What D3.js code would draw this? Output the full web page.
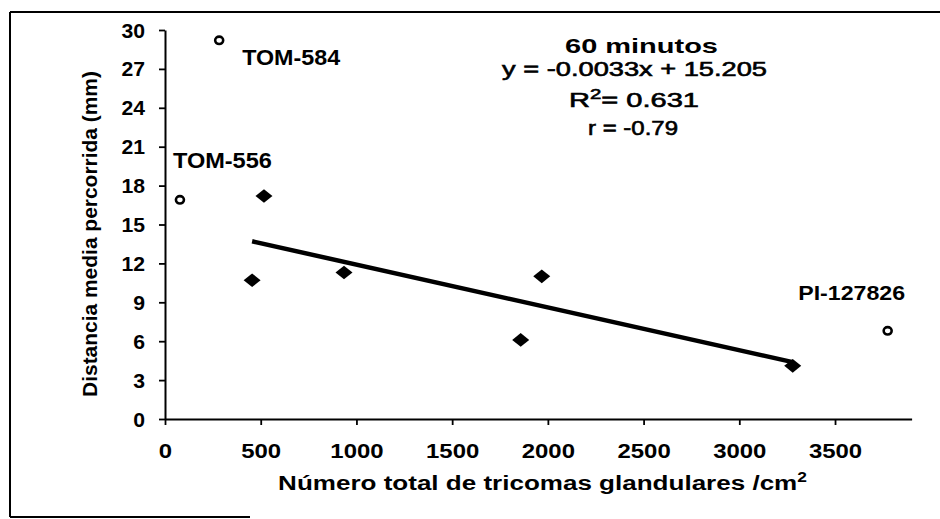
<!DOCTYPE html>
<html><head><meta charset="utf-8">
<script src="https://cdn.jsdelivr.net/npm/d3@7"></script>
<style>html,body{margin:0;padding:0;background:#fff;} svg{display:block;font-family:"Liberation Sans",Arial,Helvetica,sans-serif;}</style>
</head><body><svg id="c" width="940" height="519"></svg>
<script>
// ---- data ----
const seriesX = [455, 517, 935, 1858, 1968, 3279];
const seriesY = [10.7, 17.2, 11.3, 6.1, 11.0, 4.1];
const outlierX = [283, 78, 3775];
const outlierY = [29.2, 16.9, 6.8];
const outlierLabels = ["TOM-584", "TOM-556", "PI-127826"];
const trendSlope = -0.0033;
const trendIntercept = 15.205;
const xTicks = [0, 500, 1000, 1500, 2000, 2500, 3000, 3500];
const yTicks = [0, 3, 6, 9, 12, 15, 18, 21, 24, 27, 30];
const xDomain = [0, 3900];
const yDomain = [0, 30];
const titleText = "60 minutos";
const eqText = "y = -0.0033x + 15.205";
const r2Value = "0.631";
const rText = "r = -0.79";
const xTitle = "Número total de tricomas glandulares /cm";
const yTitle = "Distancia media percorrida (mm)";

// ---- layout ----
const svg = d3.select("#c");
const x = d3.scaleLinear().domain(xDomain).range([165, 911.6]);
const y = d3.scaleLinear().domain(yDomain).range([419, 30]);
const labelOffsets = [[23, 25], [-7, -32], [-89.5, -31]];
const labelWidths = [98, 99, 107];

svg.append("rect").attr("width", 940).attr("height", 519).attr("fill", "#fff");

// frame
const frame = svg.append("g").attr("stroke", "#000").attr("stroke-width", 2).attr("fill", "none");
frame.append("line").attr("x1", 10).attr("x2", 940).attr("y1", 12).attr("y2", 12);
frame.append("line").attr("x1", 10).attr("x2", 10).attr("y1", 12).attr("y2", 517);
frame.append("line").attr("x1", 10).attr("x2", 250).attr("y1", 517).attr("y2", 517);

function fitText(g, tx, ty, w, extra) {
  const t = g.select("text");
  const n = t.node().getComputedTextLength();
  const s = w / n;
  g.attr("transform", `translate(${tx},${ty}) ${extra || ""} scale(${s},1)`);
}

// axes
const fmt = d3.format("d");
const yAxis = svg.append("g").attr("transform", "translate(165,0)")
  .call(d3.axisLeft(y).tickValues(yTicks).tickFormat(fmt).tickSize(6).tickSizeOuter(0));
const xAxis = svg.append("g").attr("transform", "translate(0,419)")
  .call(d3.axisBottom(x).tickValues(xTicks).tickFormat(fmt).tickSize(6).tickSizeOuter(0));
[yAxis, xAxis].forEach(a => {
  a.attr("font-family", "'Liberation Sans',Arial,sans-serif");
  a.select(".domain").attr("stroke", "#000").attr("stroke-width", 2);
  a.selectAll(".tick line").attr("stroke", "#000").attr("stroke-width", 1.8);
  a.selectAll("text").attr("fill", "#000").attr("font-weight", "bold");
});
yAxis.attr("font-size", 20);
xAxis.attr("font-size", 21);
yAxis.selectAll("text").attr("font-size", 20).attr("x", 0).attr("dy", "0.35em")
  .attr("transform", "translate(-20,0) scale(1.06,1)");
xAxis.selectAll("text").attr("font-size", 21).attr("y", 0).attr("dy", 0)
  .attr("transform", "translate(0,39) scale(1.14,1)");

// trend line
const tx0 = d3.min(seriesX), tx1 = d3.max(seriesX);
svg.append("line")
  .attr("x1", x(tx0)).attr("y1", y(trendSlope * tx0 + trendIntercept))
  .attr("x2", x(tx1)).attr("y2", y(trendSlope * tx1 + trendIntercept))
  .attr("stroke", "#000").attr("stroke-width", 4.5);

// diamonds
svg.append("g").selectAll("path").data(seriesX.map((d, i) => [d, seriesY[i]])).join("path")
  .attr("d", d => { const cx = x(d[0]), cy = y(d[1]);
    return `M${cx - 8.5},${cy}L${cx},${cy - 6.8}L${cx + 8.5},${cy}L${cx},${cy + 6.8}Z`; })
  .attr("fill", "#000");

// open circles
svg.append("g").selectAll("ellipse").data(outlierX.map((d, i) => [d, outlierY[i]])).join("ellipse")
  .attr("cx", d => x(d[0])).attr("cy", d => y(d[1])).attr("rx", 4).attr("ry", 3.7)
  .attr("fill", "#fff").attr("stroke", "#000").attr("stroke-width", 2.6);

// outlier labels
outlierLabels.forEach((lab, i) => {
  const px = x(outlierX[i]) + labelOffsets[i][0], py = y(outlierY[i]) + labelOffsets[i][1];
  const g = svg.append("g");
  g.append("text").attr("text-anchor", "start").attr("font-size", i === 2 ? 21 : 22)
    .attr("font-weight", "bold").attr("fill", "#000").text(lab);
  fitText(g, px, py, labelWidths[i]);
});

// title and statistics
function centered(str, cx, by, size, weight, w) {
  const g = svg.append("g");
  g.append("text").attr("text-anchor", "middle").attr("font-size", size)
    .attr("font-weight", weight).attr("fill", "#000").text(str);
  fitText(g, cx, by, w);
  return g;
}
centered(titleText, 641.5, 53, 21, "bold", 153);
centered(eqText, 634.5, 75.5, 20, "normal", 265).select("text").attr("stroke", "#000").attr("stroke-width", 0.6);
{
  const g = svg.append("g");
  const t = g.append("text").attr("text-anchor", "middle").attr("font-size", 20)
    .attr("fill", "#000").attr("stroke", "#000").attr("stroke-width", 0.6);
  t.append("tspan").text("R");
  t.append("tspan").attr("dy", -8).attr("font-size", 14).text("2");
  t.append("tspan").attr("dy", 8).text("= " + r2Value);
  fitText(g, 634, 106.5, 130);
}
centered(rText, 633, 135, 20, "normal", 90).select("text").attr("stroke", "#000").attr("stroke-width", 0.6);

// axis titles
{
  const g = svg.append("g");
  const t = g.append("text").attr("text-anchor", "middle").attr("font-size", 21)
    .attr("font-weight", "bold").attr("fill", "#000");
  t.append("tspan").text(xTitle);
  t.append("tspan").attr("dy", -8).attr("font-size", 14).text("2");
  fitText(g, 542.5, 490, 529);
}
{
  const g = svg.append("g");
  g.append("text").attr("text-anchor", "middle").attr("font-size", 21)
    .attr("font-weight", "bold").attr("fill", "#000").text(yTitle);
  fitText(g, 96.5, 234, 326, "rotate(-90)");
}
</script></body></html>
